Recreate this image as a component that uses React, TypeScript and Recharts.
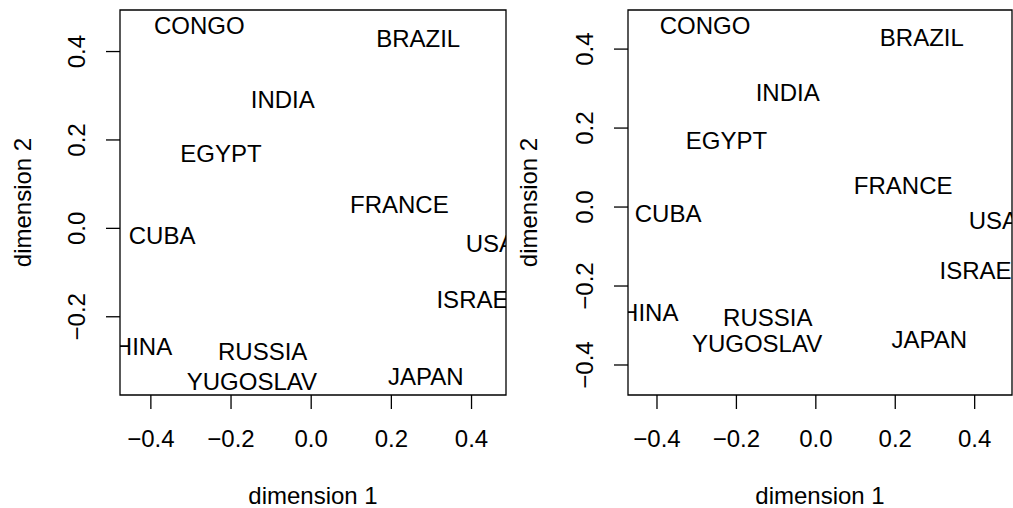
import React from "react";
import {
    ScatterChart,
    Scatter,
    XAxis,
    YAxis,
    ReferenceArea,
    Label
} from "recharts";

// country labels and their two MDS coordinates
const countries = [
    "CONGO", "BRAZIL", "INDIA", "EGYPT", "FRANCE", "CUBA",
    "USA", "ISRAEL", "CHINA", "RUSSIA", "YUGOSLAV", "JAPAN"
];
const dim1 = [-0.279, 0.267, -0.071, -0.225, 0.220, -0.372, 0.447, 0.419, -0.440, -0.121, -0.148, 0.286];
const dim2 = [0.460, 0.430, 0.291, 0.170, 0.055, -0.016, -0.034, -0.160, -0.267, -0.279, -0.346, -0.334];

const xTicks = [-0.4, -0.2, 0, 0.2, 0.4];
const yTicksLeft = [-0.2, 0, 0.2, 0.4];
const yTicksRight = [-0.4, -0.2, 0, 0.2, 0.4];

const FONT = "'Liberation Sans', Arial, Helvetica, sans-serif";
const FS = 24;

const points = countries.map((name, i) => ({ name, x: dim1[i], y: dim2[i] }));

const fmt = (v: number) => v.toFixed(1).replace("-", "\u2212");

const renderLabel = (props: any) => {
    const { cx, cy, payload } = props;
    return (
        <text x={cx} y={cy} dy="0.36em" textAnchor="middle" fontFamily={FONT} fontSize={FS} fill="#000">
            {payload.name}
        </text>
    );
};

const XTick = (props: any) => {
    const { x, y, payload } = props;
    return (
        <text x={x} y={y + 16} textAnchor="middle" fontFamily={FONT} fontSize={FS} fill="#000">
            {fmt(payload.value)}
        </text>
    );
};

const YTick = (props: any) => {
    const { x, y, payload } = props;
    return (
        <text x={x} y={y} transform={`rotate(-90, ${x}, ${y})`} textAnchor="middle"
            fontFamily={FONT} fontSize={FS} fill="#000">
            {fmt(payload.value)}
        </text>
    );
};

interface PanelProps {
    left: number;
    width: number;
    yAxisWidth: number;
    xDomain: [number, number];
    yDomain: [number, number];
    yTicks: number[];
}

function Panel({ left, width, yAxisWidth, xDomain, yDomain, yTicks }: PanelProps) {
    return (
        <div style={{ position: "absolute", left, top: 0 }}>
            <ScatterChart width={width} height={508} margin={{ top: 10, right: 1, bottom: 0, left: 0 }}>
                <XAxis
                    type="number"
                    dataKey="x"
                    domain={xDomain}
                    ticks={xTicks}
                    allowDataOverflow
                    axisLine={false}
                    tickLine={{ stroke: "#000", strokeWidth: 1.3 }}
                    tickSize={14}
                    tickMargin={22}
                    tick={<XTick />}
                    height={113}
                >
                    <Label
                        content={(p: any) => {
                            const vb = p.viewBox;
                            return (
                                <text x={vb.x + vb.width / 2} y={504} textAnchor="middle"
                                    fontFamily={FONT} fontSize={FS} fill="#000">
                                    dimension 1
                                </text>
                            );
                        }}
                    />
                </XAxis>
                <YAxis
                    type="number"
                    dataKey="y"
                    domain={yDomain}
                    ticks={yTicks}
                    allowDataOverflow
                    axisLine={false}
                    tickLine={{ stroke: "#000", strokeWidth: 1.3 }}
                    tickSize={14}
                    tickMargin={21}
                    tick={<YTick />}
                    width={yAxisWidth}
                >
                    <Label
                        content={(p: any) => {
                            const vb = p.viewBox;
                            const tx = vb.x + 31;
                            const ty = vb.y + vb.height / 2;
                            return (
                                <text x={tx} y={ty} transform={`rotate(-90, ${tx}, ${ty})`} textAnchor="middle"
                                    fontFamily={FONT} fontSize={FS} fill="#000">
                                    dimension 2
                                </text>
                            );
                        }}
                    />
                </YAxis>
                <ReferenceArea
                    x1={xDomain[0]}
                    x2={xDomain[1]}
                    y1={yDomain[0]}
                    y2={yDomain[1]}
                    fill="none"
                    fillOpacity={0}
                    stroke="#000"
                    strokeWidth={1.3}
                    ifOverflow="visible"
                />
                <Scatter data={points} shape={renderLabel} isAnimationActive={false} />
            </ScatterChart>
        </div>
    );
}

export default function App() {
    return (
        <div style={{ position: "absolute", left: 0, top: 0, width: 1013, height: 508, background: "#fff" }}>
            <Panel left={0} width={507} yAxisWidth={120} xDomain={[-0.477, 0.486]} yDomain={[-0.377, 0.494]} yTicks={yTicksLeft} />
            <Panel left={506} width={507} yAxisWidth={122} xDomain={[-0.473, 0.494]} yDomain={[-0.476, 0.499]} yTicks={yTicksRight} />
        </div>
    );
}
